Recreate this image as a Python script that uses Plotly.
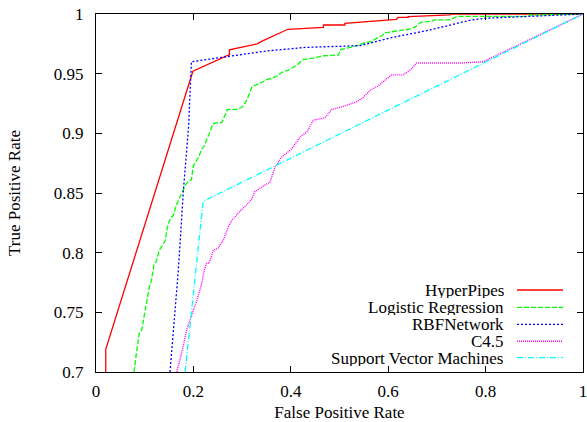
import plotly.graph_objects as go

# ---------------- data ----------------
series_names = ["HyperPipes", "Logistic Regression", "RBFNetwork", "C4.5", "Support Vector Machines"]

hp_fpr = [0.020, 0.020, 0.199, 0.274, 0.274, 0.331, 0.340, 0.394, 0.394, 0.467, 0.467, 0.511, 0.511,
          0.617, 0.620, 0.641, 0.641, 0.727, 0.730, 1.000]
hp_tpr = [0.700, 0.719, 0.952, 0.966, 0.970, 0.975, 0.977, 0.9868, 0.9872, 0.9888, 0.9908, 0.9908, 0.9922,
          0.9955, 0.9972, 0.9972, 0.9978, 0.9992, 1.000, 1.000]

lr_fpr = [0.078, 0.081, 0.083, 0.089, 0.094, 0.098, 0.104, 0.110, 0.114, 0.119, 0.124, 0.130, 0.136,
          0.142, 0.146, 0.150, 0.155, 0.159, 0.164, 0.172, 0.178, 0.184, 0.190, 0.196, 0.200, 0.205,
          0.211, 0.216, 0.223, 0.228, 0.232, 0.240, 0.250, 0.258, 0.263, 0.270, 0.290, 0.300, 0.307,
          0.314, 0.320, 0.333, 0.342, 0.350, 0.360, 0.372, 0.381, 0.395, 0.405, 0.412, 0.426, 0.446,
          0.467, 0.498, 0.501, 0.515, 0.522, 0.540, 0.552, 0.566, 0.577, 0.588, 0.592, 0.620, 0.640,
          0.655, 0.662, 0.667, 0.690, 0.695, 0.727, 0.733, 0.741, 0.884, 0.886, 1.000]
lr_tpr = [0.700, 0.713, 0.716, 0.733, 0.735, 0.745, 0.760, 0.772, 0.777, 0.790, 0.793, 0.802, 0.806,
          0.810, 0.820, 0.826, 0.830, 0.831, 0.839, 0.846, 0.852, 0.857, 0.860, 0.861, 0.873, 0.876,
          0.880, 0.886, 0.890, 0.896, 0.899, 0.908, 0.909, 0.909, 0.914, 0.920, 0.920, 0.922, 0.926,
          0.932, 0.939, 0.941, 0.943, 0.945, 0.946, 0.948, 0.951, 0.953, 0.955, 0.957, 0.962, 0.963,
          0.965, 0.9656, 0.970, 0.971, 0.972, 0.974, 0.976, 0.977, 0.980, 0.982, 0.984, 0.986, 0.987,
          0.989, 0.991, 0.993, 0.994, 0.995, 0.995, 0.9965, 0.998, 0.998, 0.999, 1.000]

rbf_fpr = [0.152, 0.169, 0.180, 0.190, 0.196, 0.244, 0.300, 0.350, 0.430, 0.510, 0.542, 0.604, 0.686,
           0.770, 0.800, 0.890, 1.000]
rbf_tpr = [0.700, 0.785, 0.855, 0.905, 0.960, 0.963, 0.966, 0.969, 0.972, 0.9735, 0.9735, 0.980, 0.9866,
           0.995, 0.9965, 0.998, 1.000]

c45_fpr = [0.166, 0.176, 0.186, 0.193, 0.200, 0.207, 0.217, 0.222, 0.227, 0.232, 0.241, 0.251, 0.262,
           0.272, 0.279, 0.296, 0.309, 0.320, 0.326, 0.340, 0.357, 0.368, 0.381, 0.402, 0.419, 0.433,
           0.446, 0.470, 0.484, 0.504, 0.532, 0.546, 0.563, 0.580, 0.607, 0.631, 0.648, 0.658, 0.754,
           0.795, 1.000]
c45_tpr = [0.700, 0.716, 0.735, 0.743, 0.752, 0.760, 0.774, 0.785, 0.791, 0.791, 0.802, 0.804, 0.811,
           0.822, 0.827, 0.835, 0.840, 0.845, 0.851, 0.855, 0.859, 0.872, 0.880, 0.887, 0.897, 0.901,
           0.911, 0.913, 0.920, 0.922, 0.926, 0.929, 0.936, 0.940, 0.949, 0.949, 0.954, 0.959, 0.959,
           0.960, 1.000]

svm_fpr = [0.183, 0.220, 1.000]
svm_tpr = [0.700, 0.843, 1.000]

x_tick_vals = [0, 0.2, 0.4, 0.6, 0.8, 1]
x_tick_text = ["0", "0.2", "0.4", "0.6", "0.8", "1"]
y_tick_vals = [0.7, 0.75, 0.8, 0.85, 0.9, 0.95, 1]
y_tick_text = ["0.7", "0.75", "0.8", "0.85", "0.9", "0.95", "1"]

# ---------------- styles ----------------
colors = ["#ff0000", "#00ff00", "#0000ff", "#ff00ff", "#00ffff"]
dashes = ["solid", "5px,2px", "2px,2px", "1px,1px", "6px,2px,1px,2px"]
widths = [1.3, 1.3, 1.3, 1.4, 1.3]

FONT = '"Liberation Serif", "Times New Roman", serif'

xs = [hp_fpr, lr_fpr, rbf_fpr, c45_fpr, svm_fpr]
ys = [hp_tpr, lr_tpr, rbf_tpr, c45_tpr, svm_tpr]

fig = go.Figure()
for name, x, y, c, d, w in zip(series_names, xs, ys, colors, dashes, widths):
    fig.add_trace(go.Scatter(x=x, y=y, mode="lines", name=name,
                             line=dict(color=c, dash=d, width=w), showlegend=False))

# gnuplot-style legend: right-aligned text with the line sample on its right
legend_rows = [0.229, 0.1807, 0.1332, 0.0858, 0.0399]
text_right = 0.8398
sample_x0, sample_x1 = 0.8645, 0.959
for name, c, d, w, ry in zip(series_names, colors, dashes, widths, legend_rows):
    fig.add_annotation(x=text_right, y=ry, xref="paper", yref="paper", text=name,
                       showarrow=False, xanchor="right", yanchor="middle", height=16,
                       borderpad=0,
                       font=dict(family=FONT, size=17, color="black"))
    fig.add_shape(type="line", xref="paper", yref="paper", x0=sample_x0, x1=sample_x1,
                  y0=ry, y1=ry, line=dict(color=c, dash=d, width=w))

axis_common = dict(showline=True, linecolor="black", linewidth=1, mirror="ticks",
                   ticks="inside", ticklen=6, tickcolor="black", tickwidth=1,
                   showgrid=False, zeroline=False, ticklabeloverflow="allow",
                   tickfont=dict(family=FONT, size=17, color="black"))

fig.update_xaxes(range=[0, 1], tickvals=x_tick_vals, ticktext=x_tick_text,
                 title=dict(text="False Positive Rate", font=dict(family=FONT, size=17, color="black"),
                            standoff=14),
                 ticklabelstandoff=4, **axis_common)
fig.update_yaxes(range=[0.7, 1], tickvals=y_tick_vals, ticktext=y_tick_text,
                 title=dict(text="True Positive Rate", font=dict(family=FONT, size=17, color="black"),
                            standoff=28),
                 ticklabelstandoff=8, **axis_common)

fig.update_layout(width=587, height=422, margin=dict(l=96, r=4, t=14, b=50, autoexpand=False),
                  plot_bgcolor="white", paper_bgcolor="white", showlegend=False)

fig.write_html("out.html")
